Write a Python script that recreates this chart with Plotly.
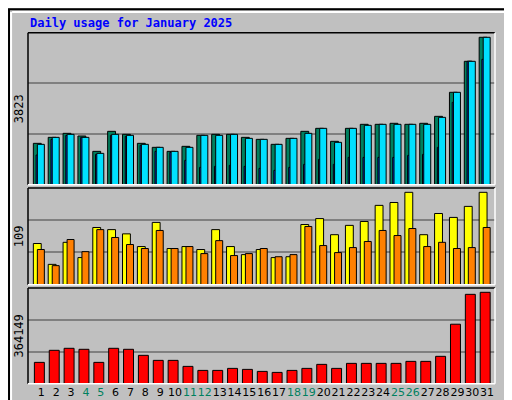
import plotly.graph_objects as go

days = list(range(1, 32))
hits = [1073,1228,1332,1263,865,1384,1306,1073,969,865,995,1280,1306,1306,1228,1176,1047,1202,1384,1462,1125,1462,1566,1566,1592,1566,1592,1773,2396,3200,3823]
files = [1047,1228,1306,1228,813,1306,1280,1047,969,865,969,1280,1280,1306,1202,1176,1047,1202,1332,1462,1099,1462,1540,1566,1566,1566,1566,1747,2396,3200,3823]
pages = [770,1176,1280,1228,787,1280,1254,1021,865,839,631,450,476,502,476,424,372,450,528,657,528,709,709,709,709,761,787,969,2136,3200,3252]
visits = [48.6,24,50,32,67.5,65,60,45,73.5,42.7,45,41.5,65,45,35.5,41.5,32,33,71,78,59,70,74.6,93.6,97,109,59,84,79.4,92.4,109]
sites = [41.5,22.5,53.3,39,65,55.7,47.4,42.7,64,42.7,45,36.7,52,34.4,36.7,42.7,33,35.5,68.7,46.2,37.9,43.8,51,64,58,66.3,45,50,42.7,43.8,67.5]
kbytes = [85000,133000,141000,137000,85000,141000,137000,113000,93000,93000,69000,53000,53000,61000,57000,49000,45000,53000,61000,77000,61000,81000,81000,81000,81000,89000,89000,109000,237000,356000,364149]
weekend = {4,5,11,12,18,19,25,26}
tick_labels = [f"<span style='color:#00805f'>{d}</span>" if d in weekend else str(d) for d in days]

W, H = 512, 400
def py(p): return 1 - p / H
NB = "\u00a0"
mono = "DejaVu Sans Mono"

fig = go.Figure()
def bars(y, off, w, color, axis):
    fig.add_trace(go.Bar(x=[d + off for d in days], y=y, width=w, marker=dict(color=color, line=dict(color="black", width=1)),
                         xaxis="x" if axis == 1 else f"x{axis}", yaxis="y" if axis == 1 else f"y{axis}", showlegend=False, hoverinfo="skip"))

bars(hits, -0.27, 0.53, "#00805f", 1)
bars(pages, -0.2, 0.3, "#0040ff", 1)
bars(files, -0.03, 0.47, "#00e0ff", 1)
bars(visits, -0.27, 0.53, "#ffff00", 2)
bars(sites, -0.03, 0.47, "#ff8000", 2)
bars(kbytes, -0.13, 0.67, "#ff0000", 3)

xr = [0.105, 31.53]
xd = [20 / W, 487 / W]
panels = [(24.7, 176.7, 3942), (180, 276.7, 114.1), (280, 375.7, 381270)]
left_titles = ["3823" + NB * 17, "109" + NB * 11, "364149" + NB * 8]
right_titles = ["<span style='color:#00e0ff'>Pages</span><span style='color:#0040ff'> / Files</span><span style='color:#00805f'> / Hits</span>",
                "<span style='color:#ff8000'>Sites</span><span style='color:#ffff00'> / Visits</span>",
                NB * 8 + "<span style='color:#ff0000'>KBytes</span>"]
lay = {}
for i, (t, b, m) in enumerate(panels, 1):
    s = "" if i == 1 else str(i)
    lay[f"xaxis{s}"] = dict(domain=xd, range=xr, showgrid=False, zeroline=False, anchor=f"y{s}" if s else "y",
                            tickvals=days if i == 3 else [], ticktext=tick_labels if i == 3 else None, tickangle=0,
                            ticks="", tickfont=dict(family="DejaVu Sans", size=11, color="black"), showline=False)
    lay[f"yaxis{s}"] = dict(domain=[py(b), py(t)], range=[0, m], tickvals=[m / 3, 2 * m / 3], showticklabels=False,
                            gridcolor="#808080", gridwidth=1.5, zeroline=False, anchor=f"x{s}" if s else "x",
                            title=dict(text=left_titles[i - 1], standoff=0, font=dict(family=mono, size=12, color="black")))
    lay[f"yaxis{i + 3}"] = dict(domain=[py(b), py(t)], range=[0, m], overlaying=f"y{s}" if s else "y", side="right",
                                anchor=f"x{s}" if s else "x", showticklabels=False, showgrid=False, zeroline=False,
                                title=dict(text=right_titles[i - 1], standoff=0, font=dict(family=mono, size=12)))

shapes = [dict(type="rect", xref="paper", yref="paper", x0=0.002, x1=0.998, y0=0.003, y1=0.997, line=dict(color="black", width=2)),
          dict(type="line", xref="paper", yref="paper", x0=0.008, x1=0.992, y0=0.99, y1=0.99, line=dict(color="white", width=2)),
          dict(type="line", xref="paper", yref="paper", x0=0.006, x1=0.006, y0=0.01, y1=0.99, line=dict(color="white", width=2)),
          dict(type="line", xref="paper", yref="paper", x0=0.994, x1=0.994, y0=0.01, y1=0.99, line=dict(color="#808080", width=2)),
          dict(type="line", xref="paper", yref="paper", x0=0.006, x1=0.994, y0=0.012, y1=0.012, line=dict(color="#808080", width=2))]
for t, b, m in panels:
    shapes += [dict(type="line", xref="paper", yref="paper", x0=xd[0], x1=xd[1], y0=py(t), y1=py(t), line=dict(color="black", width=1.5)),
               dict(type="line", xref="paper", yref="paper", x0=xd[0], x1=xd[0], y0=py(b), y1=py(t), line=dict(color="black", width=1.5)),
               dict(type="line", xref="paper", yref="paper", x0=xd[1], x1=xd[1], y0=py(b), y1=py(t), line=dict(color="white", width=1.5)),
               dict(type="line", xref="paper", yref="paper", x0=xd[0], x1=xd[1], y0=py(b), y1=py(b), line=dict(color="white", width=1.5))]

ann = [dict(text="<b>Daily usage for January 2025</b>", x=20 / W, y=py(15), xref="paper", yref="paper", xanchor="left", yanchor="middle",
            showarrow=False, font=dict(family=mono, size=12, color="#0000ff"))]

fig.update_layout(width=W, height=H, margin=dict(l=0, r=0, t=0, b=0, autoexpand=False), paper_bgcolor="#c0c0c0", plot_bgcolor="#c0c0c0",
                  barmode="overlay", shapes=shapes, annotations=ann, **lay)
fig.write_html("out.html")
